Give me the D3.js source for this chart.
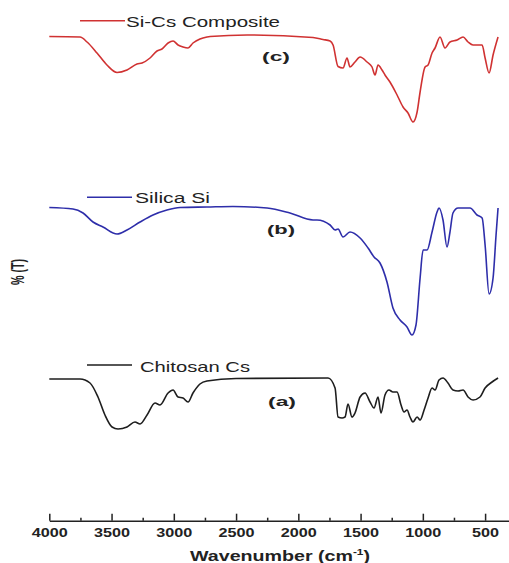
<!DOCTYPE html>
<html>
<head>
<meta charset="utf-8">
<script src="https://cdn.jsdelivr.net/npm/d3@7"></script>
<style>
  body { margin: 0; background: #fff; }
  text { font-family: Arial, "Liberation Sans", sans-serif; fill: #222; }
</style>
</head>
<body>
<div id="vis"></div>
<script>
// stacked %T values (offset per spectrum), wavenumber in cm-1
var composite = [
  [4000, 96.7], [3753, 96.6], [3697, 95.6], [3617, 93.4], [3537, 91.0], [3456, 89.5],
  [3376, 90.0], [3296, 91.2], [3255, 91.4], [3191, 92.4], [3135, 93.8], [3095, 94.2],
  [3046, 95.4], [3006, 95.8], [2966, 95.0], [2926, 94.6], [2886, 94.4], [2846, 95.4],
  [2790, 96.2], [2734, 96.6], [2709, 96.7], [2412, 97.0], [1882, 96.5], [1802, 96.1],
  [1745, 95.8], [1721, 95.0], [1681, 90.7], [1641, 90.4], [1609, 92.4], [1585, 90.6],
  [1545, 91.6], [1504, 92.6], [1448, 91.6], [1408, 90.6], [1384, 89.0], [1360, 91.0],
  [1328, 90.0], [1304, 89.0], [1264, 87.6], [1207, 85.0], [1159, 82.6], [1119, 81.4],
  [1079, 79.6], [1046, 81.6], [1022, 85.6], [982, 90.6], [958, 91.0], [926, 93.4],
  [902, 94.4], [862, 96.6], [822, 94.4], [782, 95.6], [725, 96.0], [677, 96.6],
  [637, 95.6], [597, 95.0], [524, 95.0], [500, 92.4], [468, 89.4], [436, 93.0], [396, 96.6]
];

var silica = [
  [4000, 62.5], [3810, 62.2], [3729, 61.4], [3649, 59.6], [3569, 58.6], [3456, 57.2],
  [3376, 58.0], [3271, 59.6], [3167, 61.0], [3055, 62.0], [2950, 62.5], [2734, 62.6],
  [2525, 62.7], [2251, 62.4], [2067, 61.4], [1882, 60.0], [1850, 60.0], [1745, 59.0],
  [1705, 58.0], [1681, 58.2], [1641, 56.6], [1585, 57.6], [1504, 56.4], [1440, 54.4],
  [1392, 52.6], [1344, 51.4], [1288, 47.6], [1240, 42.4], [1183, 40.0], [1127, 38.6],
  [1087, 37.0], [1055, 39.0], [1022, 48.4], [998, 54.0], [966, 54.0], [926, 57.6],
  [886, 61.6], [870, 62.4], [838, 60.0], [806, 54.6], [782, 57.6], [758, 61.4],
  [717, 62.4], [621, 62.4], [565, 61.0], [524, 60.4], [500, 55.0], [468, 45.2],
  [436, 48.4], [412, 57.0], [396, 62.4]
];

var chitosan = [
  [4000, 28.2], [3753, 28.2], [3673, 27.4], [3609, 24.6], [3553, 21.0], [3496, 18.6],
  [3448, 18.2], [3376, 18.6], [3312, 19.6], [3271, 19.2], [3215, 21.0], [3151, 23.4],
  [3111, 23.0], [3046, 25.4], [3006, 26.0], [2966, 24.6], [2926, 24.4], [2886, 23.6],
  [2846, 25.4], [2790, 27.2], [2734, 27.8], [2500, 28.3], [1761, 28.4], [1705, 26.4],
  [1681, 20.6], [1649, 20.4], [1625, 20.6], [1601, 23.2], [1569, 20.6], [1545, 21.4],
  [1504, 24.6], [1464, 25.4], [1424, 23.6], [1392, 22.4], [1360, 24.6], [1336, 21.4],
  [1304, 25.0], [1272, 26.0], [1240, 25.6], [1207, 25.6], [1175, 23.0], [1151, 21.6],
  [1127, 22.0], [1103, 20.6], [1079, 19.6], [1046, 20.6], [1022, 20.0], [990, 22.0],
  [958, 24.4], [926, 26.4], [902, 26.0], [870, 28.0], [838, 28.4], [798, 27.4],
  [758, 26.0], [717, 25.8], [677, 26.0], [637, 24.6], [597, 24.0], [541, 24.6],
  [500, 26.4], [444, 27.6], [396, 28.4]
];

var seriesNames = ['Si-Cs Composite', 'Silica Si', 'Chitosan Cs'];
var seriesTags = ['(c)', '(b)', '(a)'];
var majorTicks = [4000, 3500, 3000, 2500, 2000, 1500, 1000, 500];
var minorTicks = [3750, 3250, 2750, 2250, 1750, 1250, 750];

var width = 509, height = 563;

var svg = d3.select('#vis').append('svg')
  .attr('width', width)
  .attr('height', height);

var x = d3.scaleLinear().domain([4000, 300]).range([49.3, 510]);
var y = d3.scaleLinear().domain([0, 100]).range([520, 20]);

var line = d3.line()
  .x(function(d) { return x(d[0]); })
  .y(function(d) { return y(d[1]); })
  .curve(d3.curveMonotoneX);

var spectra = [
  {data: composite, color: '#d03232', legend: {x1: 80, x2: 125, y: 20.7, tx: 126, ty: 26.5, len: 154, fs: 15},
   tag: {x: 276, y: 61}},
  {data: silica, color: '#2e2eaa', legend: {x1: 87, x2: 132, y: 197.3, tx: 135, ty: 202.7, len: 75, fs: 14},
   tag: {x: 281, y: 234}},
  {data: chitosan, color: '#1e1e1e', legend: {x1: 87, x2: 132, y: 365, tx: 140, ty: 371.5, len: 110, fs: 15},
   tag: {x: 282, y: 406}}
];

spectra.forEach(function(s, i) {
  svg.append('path')
    .datum(s.data)
    .attr('fill', 'none')
    .attr('stroke', s.color)
    .attr('stroke-width', 1.6)
    .attr('stroke-linejoin', 'round')
    .attr('d', line);

  // legend entry
  svg.append('line')
    .attr('x1', s.legend.x1).attr('x2', s.legend.x2)
    .attr('y1', s.legend.y).attr('y2', s.legend.y)
    .attr('stroke', s.color)
    .attr('stroke-width', 1.6);

  svg.append('text')
    .attr('x', s.legend.tx)
    .attr('y', s.legend.ty)
    .attr('font-size', s.legend.fs)
    .attr('textLength', s.legend.len)
    .attr('lengthAdjust', 'spacingAndGlyphs')
    .text(seriesNames[i]);

  svg.append('text')
    .attr('x', s.tag.x)
    .attr('y', s.tag.y)
    .attr('text-anchor', 'middle')
    .attr('font-size', 13)
    .attr('font-weight', 'bold')
    .attr('textLength', 28)
    .attr('lengthAdjust', 'spacingAndGlyphs')
    .text(seriesTags[i]);
});

// x axis
var xAxis = d3.axisBottom(x)
  .tickValues(majorTicks)
  .tickSizeInner(-7)
  .tickSizeOuter(0)
  .tickPadding(8)
  .tickFormat(d3.format('d'));

var gx = svg.append('g')
  .attr('transform', 'translate(0,520.7)')
  .call(xAxis);

gx.select('.domain').attr('stroke', '#222').attr('stroke-width', 1.6);
gx.selectAll('.tick line').attr('stroke', '#222').attr('stroke-width', 1.5);
gx.selectAll('.tick text')
  .attr('font-size', 12)
  .attr('font-weight', 'bold')
  .attr('fill', '#222')
  .attr('textLength', function(d) { return d >= 1000 ? 36 : 27; })
  .attr('lengthAdjust', 'spacingAndGlyphs');

var gMinor = svg.append('g')
  .attr('transform', 'translate(0,520.7)')
  .call(d3.axisBottom(x).tickValues(minorTicks).tickSizeInner(-3).tickSizeOuter(0).tickFormat(''));
gMinor.select('.domain').remove();
gMinor.selectAll('.tick line').attr('stroke', '#222').attr('stroke-width', 1.5);

// axis titles
var xt = svg.append('text')
  .attr('x', 280)
  .attr('y', 561)
  .attr('text-anchor', 'middle')
  .attr('font-size', 15)
  .attr('font-weight', 'bold')
  .attr('textLength', 180)
  .attr('lengthAdjust', 'spacingAndGlyphs');
xt.append('tspan').text('Wavenumber (cm');
xt.append('tspan').attr('font-size', 9).attr('dy', -6).text('-1');
xt.append('tspan').attr('dy', 6).text(')');

svg.append('text')
  .attr('transform', 'translate(24,272) scale(1.25,1) rotate(-90)')
  .attr('text-anchor', 'middle')
  .attr('font-size', 15)
  .attr('font-weight', 'bold')
  .attr('textLength', 26)
  .attr('lengthAdjust', 'spacingAndGlyphs')
  .text('% (T)');
</script>
</body>
</html>
